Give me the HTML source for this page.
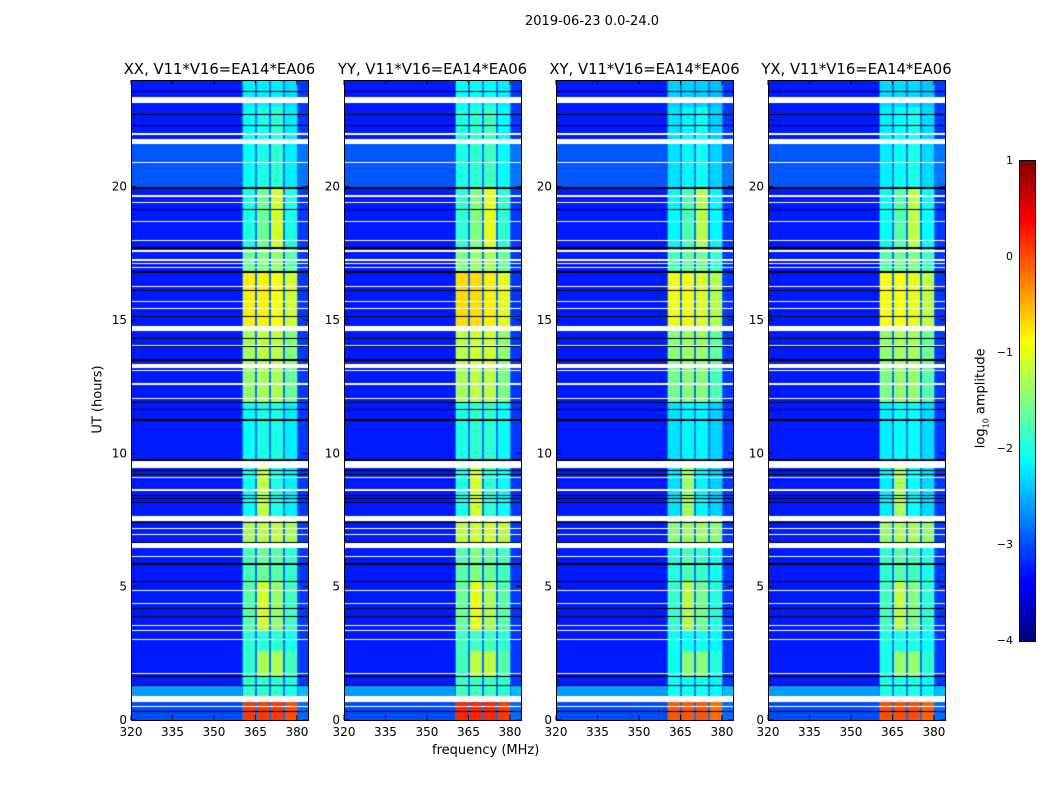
<!DOCTYPE html>
<html><head><meta charset="utf-8">
<style>
body{margin:0;background:#fff;width:1050px;height:800px;overflow:hidden;font-family:"DejaVu Sans","Liberation Sans",sans-serif;}
#wrap{position:relative;width:1050px;height:800px;}
.t{position:absolute;white-space:nowrap;color:#000;}
canvas{position:absolute;}
svg{position:absolute;left:0;top:0;}
</style></head>
<body>
<div id="wrap">
<div class="t" style="left:525px;top:14px;font-size:13px;">2019-06-23 0.0-24.0</div>
<div class="t" style="left:48px;top:392px;font-size:13px;transform:rotate(-90deg);transform-origin:50% 50%;width:100px;text-align:center;">UT (hours)</div>
<div class="t" style="left:432px;top:743px;font-size:13px;">frequency (MHz)</div>
<div class="t" style="left:922px;top:390px;font-size:13px;transform:rotate(-90deg);width:120px;text-align:center;">log<sub style="font-size:8px">10</sub> amplitude</div>
<canvas id="cbar" width="15" height="480" style="left:1019px;top:160px;border:1px solid #000;"></canvas>
<svg id="svg" width="1050" height="800"></svg>
</div>
<script>
// ---- data ----
const panelTitles = ["XX, V11*V16=EA14*EA06","YY, V11*V16=EA14*EA06","XY, V11*V16=EA14*EA06","YX, V11*V16=EA14*EA06"];
const panelGain = [0, 0.1, -0.15, -0.1];
const xTicks = [320,335,350,365,380];
const yTicks = [0,5,10,15,20];
const cbTicks = [1,0,-1,-2,-3,-4];
const bandEdges = [[360.5,365.0],[365.5,370.0],[370.5,375.1],[375.6,380.0]];
const segStart = [0,0.9,1.6,2.6,3.4,5.2,6.5,7.5,9.7,11.9,13.3,14.7,16.8,17.6,19.9,23];
const band1 = [0.1,-1.9,-1.9,-1.9,-1.7,-1.8,-1.3,-2.1,-2.1,-1.4,-1.3,-0.8,-1.6,-2.0,-2.1,-2.2];
const band2 = [0.1,-1.9,-1.3,-1.9,-1.1,-1.6,-1.2,-1.2,-2.0,-1.3,-1.2,-0.8,-1.5,-1.6,-2.0,-2.2];
const band3 = [0.1,-1.9,-1.3,-1.9,-1.4,-1.7,-1.2,-2.0,-2.0,-1.3,-1.2,-0.9,-1.4,-1.1,-1.9,-2.2];
const band4 = [0.0,-2.0,-1.8,-2.0,-1.8,-1.9,-1.3,-2.2,-2.2,-1.6,-1.5,-1.1,-1.7,-2.0,-2.2,-2.3];
const bgSegs = [[0.9,1.3,-2.6],[20.0,21.6,-2.95],[0,0.7,-3.0]];
const bgLevel = -3.25;
const whiteFlags = [[23.15,23.35],[21.6,21.78],[21.94,22.0],[20.88,20.93],[19.63,19.67],[19.38,19.42],[18.67,18.71],[17.95,17.99],[17.55,17.62],[17.23,17.27],[17.09,17.13],[16.94,16.98],[16.25,16.29],[15.67,15.71],[15.42,15.46],[14.6,14.76],[14.04,14.08],[13.2,13.35],[13.07,13.11],[12.58,12.62],[12.05,12.09],[9.44,9.71],[9.07,9.11],[8.58,8.65],[7.47,7.66],[7.16,7.2],[6.92,6.96],[6.46,6.62],[6.1,6.14],[4.85,4.89],[4.35,4.39],[3.54,3.58],[3.35,3.39],[3.01,3.05],[1.73,1.77],[0.69,0.9],[0.48,0.52]];
const blackFlags = [[23.56,23.6],[22.7,22.74],[22.26,22.3],[19.93,19.98],[19.14,19.18],[17.68,17.72],[16.78,16.82],[16.1,16.14],[15.1,15.14],[14.28,14.32],[13.98,14.02],[13.48,13.52],[11.88,11.92],[11.63,11.67],[11.23,11.27],[9.73,9.78],[9.33,9.37],[9.2,9.24],[8.41,8.45],[8.3,8.33],[8.14,8.18],[7.38,7.42],[6.63,6.67],[5.83,5.88],[5.17,5.21],[4.17,4.21],[3.86,3.9],[1.6,1.64],[1.26,1.3],[0.29,0.33]];

// ---- geometry ----
const panelX = [131,344,556,768], PW = 177, PT = 80, PH = 640;
const fMin = 320, fMax = 384, tMin = 0, tMax = 24;
const xScale = (f, p) => panelX[p] + (f - fMin) / (fMax - fMin) * PW;
const yScale = t => PT + PH - (t - tMin) / (tMax - tMin) * PH;

function jet(v){
  let t = Math.max(0, Math.min(1, (v + 4) / 5));
  const c = x => Math.round(255 * Math.max(0, Math.min(1, x)));
  return [c(1.5 - Math.abs(4*t - 3)), c(1.5 - Math.abs(4*t - 2)), c(1.5 - Math.abs(4*t - 1))];
}
function segIndex(h){ let i = 0; for (let k = 0; k < segStart.length; k++) if (h >= segStart[k]) i = k; return i; }
function value(h, f, p){
  for (const w of whiteFlags) if (h >= w[0] && h <= w[1]) return null;
  for (const b of blackFlags) if (h >= b[0] && h <= b[1]) return 'k';
  let bg = bgLevel;
  for (const s of bgSegs) if (h >= s[0] && h < s[1]) bg = s[2];
  const i = segIndex(h);
  const bands = [band1[i], band2[i], band3[i], band4[i]];
  for (let b = 0; b < 4; b++) if (f >= bandEdges[b][0] && f < bandEdges[b][1]) return bands[b] + panelGain[p];
  if (f >= 360 && f < 380.5) return Math.min(-2.8, bands[0]);
  if (f >= 380.5) return bg + 0.15;
  return bg;
}

const wrap = document.getElementById('wrap');
const svg = document.getElementById('svg');
const NS = 'http://www.w3.org/2000/svg';
function sv(tag, attrs){ const e = document.createElementNS(NS, tag); for (const k in attrs) e.setAttribute(k, attrs[k]); svg.appendChild(e); return e; }

for (let p = 0; p < 4; p++){
  const cv = document.createElement('canvas');
  cv.width = PW; cv.height = PH;
  cv.style.left = panelX[p] + 'px'; cv.style.top = PT + 'px';
  
  
  wrap.insertBefore(cv, svg);
  const ctx = cv.getContext('2d');
  const img = ctx.createImageData(PW, PH);
  for (let y = 0; y < PH; y++){
    const h = tMax - (y + 0.5) / PH * (tMax - tMin);
    for (let x = 0; x < PW; x++){
      const f = fMin + (x + 0.5) / PW * (fMax - fMin);
      const v = value(h, f, p);
      const o = (y * PW + x) * 4;
      let c = v === null ? [255,255,255] : v === 'k' ? [0,0,0] : jet(v);
      img.data[o] = c[0]; img.data[o+1] = c[1]; img.data[o+2] = c[2]; img.data[o+3] = 255;
    }
  }
  ctx.putImageData(img, 0, 0);

  const frame = sv('rect', {x: panelX[p]+0.5, y: PT+0.5, width: PW, height: PH, fill: 'none', stroke: '#000', 'stroke-width': 1});
  
  
  const title = sv('text', {x: panelX[p] + PW/2, y: 74, 'text-anchor': 'middle', 'font-size': 14.8, 'font-family': 'DejaVu Sans, Liberation Sans, sans-serif'});
  title.textContent = panelTitles[p];
  
  
  for (const f of xTicks){
    const x = xScale(f, p);
    sv('line', {x1: x, x2: x, y1: PT+PH, y2: PT+PH-5, stroke: '#000'});
    sv('line', {x1: x, x2: x, y1: PT, y2: PT+5, stroke: '#000'});
    const tl = sv('text', {x: x, y: PT+PH+16, 'text-anchor': 'middle', 'font-size': 12, 'font-family': 'DejaVu Sans, Liberation Sans, sans-serif'});
    tl.textContent = f;
    
    
  }
  for (const t of yTicks){
    const y = yScale(t);
    sv('line', {x1: panelX[p], x2: panelX[p]+5, y1: y, y2: y, stroke: '#000'});
    sv('line', {x1: panelX[p]+PW, x2: panelX[p]+PW-5, y1: y, y2: y, stroke: '#000'});
    const tl = sv('text', {x: panelX[p]-4, y: y+4, 'text-anchor': 'end', 'font-size': 12, 'font-family': 'DejaVu Sans, Liberation Sans, sans-serif'});
    tl.textContent = t;
    
    
  }
}

// colorbar
const cb = document.getElementById('cbar').getContext('2d');
for (let y = 0; y < 480; y++){
  const v = 1 - (y + 0.5) / 480 * 5;
  const c = jet(v);
  cb.fillStyle = `rgb(${c[0]},${c[1]},${c[2]})`;
  cb.fillRect(0, y, 15, 1);
}
for (const v of cbTicks){
  const y = 160 + (1 - v) / 5 * 480;
  const tl = sv('text', {x: 1013, y: y+4, 'text-anchor': 'end', 'font-size': 11, 'font-family': 'DejaVu Sans, Liberation Sans, sans-serif'});
  tl.textContent = v < 0 ? '\u2212' + (-v) : String(v);
  
  
}
</script>
</body></html>
